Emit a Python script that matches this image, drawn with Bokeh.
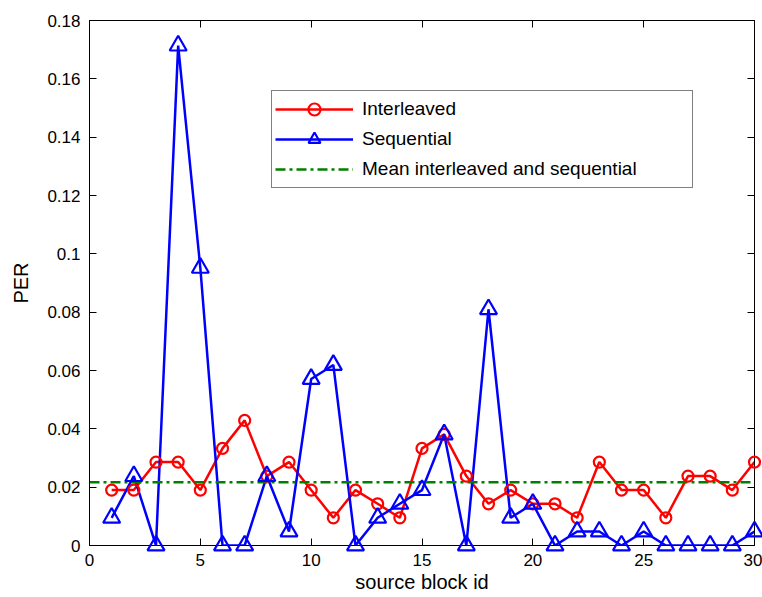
from bokeh.plotting import figure
from bokeh.models import (Range1d, LinearAxis, FixedTicker, CustomJSTickFormatter,
                          Legend, LegendItem)
from bokeh.embed import file_html
from bokeh.resources import INLINE

block_id = list(range(1, 31))
interleaved = [0.0190, 0.0190, 0.0286, 0.0286, 0.0190, 0.0333, 0.0429, 0.0238, 0.0286, 0.0190,
               0.0095, 0.0190, 0.0143, 0.0095, 0.0333, 0.0381, 0.0238, 0.0143, 0.0190, 0.0143,
               0.0143, 0.0095, 0.0286, 0.0190, 0.0190, 0.0095, 0.0238, 0.0238, 0.0190, 0.0286]
sequential = [0.0095, 0.0238, 0.0, 0.1714, 0.0952, 0.0, 0.0, 0.0238, 0.0048, 0.0571,
              0.0619, 0.0, 0.0095, 0.0143, 0.0190, 0.0381, 0.0, 0.0810, 0.0095, 0.0143,
              0.0, 0.0048, 0.0048, 0.0, 0.0048, 0.0, 0.0, 0.0, 0.0, 0.0048]
mean_value = 0.0217
x_ticks = [0, 5, 10, 15, 20, 25, 30]
y_ticks = [0, 0.02, 0.04, 0.06, 0.08, 0.1, 0.12, 0.14, 0.16, 0.18]
labels = ["Interleaved", "Sequential", "Mean interleaved and sequential"]

FONT = "Liberation Sans"

p = figure(frame_width=665, frame_height=525, output_backend="svg", toolbar_location=None,
           x_range=Range1d(0, 30), y_range=Range1d(0, 0.18),
           min_border_left=89, min_border_right=8, min_border_top=20, min_border_bottom=52,
           background_fill_color="white", border_fill_color="white")
p.grid.visible = False
p.outline_line_color = "black"
p.outline_line_width = 1

fmt = CustomJSTickFormatter(code="return tick.toFixed(2).replace(/0+$/,'').replace(/\\.$/,'');")

def style_axis(ax, ticks, show_labels):
    ax.ticker = FixedTicker(ticks=ticks)
    ax.major_tick_in = 7
    ax.major_tick_out = 0
    ax.minor_tick_line_color = None
    ax.axis_line_color = "black"
    ax.major_tick_line_color = "black"
    ax.major_label_text_font = FONT
    ax.major_label_text_font_size = "17px"
    ax.major_label_text_color = "black"
    ax.axis_label_text_font = FONT
    ax.axis_label_text_font_style = "normal"
    ax.axis_label_text_color = "black"
    if not show_labels:
        ax.formatter = CustomJSTickFormatter(code="return '';")
        ax.major_label_standoff = 0

xa = p.xaxis[0]
style_axis(xa, x_ticks, True)
xa.major_label_standoff = 8
xa.axis_label = "source block id"
xa.axis_label_text_font_size = "20px"
xa.axis_label_standoff = 2

ya = p.yaxis[0]
style_axis(ya, y_ticks, True)
ya.formatter = fmt
ya.major_label_standoff = 9
ya.axis_label = "PER"
ya.axis_label_text_font_size = "20px"
ya.axis_label_standoff = 12

top = LinearAxis()
style_axis(top, x_ticks, False)
p.add_layout(top, "above")
right = LinearAxis()
style_axis(right, y_ticks, False)
p.add_layout(right, "right")

r_int_line = p.line(block_id, interleaved, line_color="#ff0000", line_width=2.5)
r_int_mark = p.scatter(block_id, interleaved, marker="circle", size=11, fill_color=None,
                       line_color="#ff0000", line_width=2.2, level="overlay")
r_seq_line = p.line(block_id, sequential, line_color="#0000ff", line_width=2.5)
r_seq_mark = p.scatter(block_id, sequential, marker="triangle", size=17, fill_color=None,
                       line_color="#0000ff", line_width=2.2, level="overlay")
r_mean = p.line([x_ticks[0], x_ticks[-1]], [mean_value, mean_value], line_color="#008000",
                line_width=2.5, line_dash="10 4 3 4")

legend = Legend(items=[
    LegendItem(label=labels[0], renderers=[r_int_line, r_int_mark]),
    LegendItem(label=labels[1], renderers=[r_seq_line, r_seq_mark]),
    LegendItem(label=labels[2], renderers=[r_mean]),
], location=(182, 357))
legend.label_text_font = FONT
legend.label_text_font_size = "19px"
legend.label_text_color = "black"
legend.border_line_color = "black"
legend.border_line_width = 1
legend.background_fill_color = "white"
legend.background_fill_alpha = 1
legend.padding = 3
legend.margin = 0
legend.spacing = 0
legend.glyph_width = 78
legend.glyph_height = 30
legend.label_height = 30
legend.label_width = 327
legend.label_standoff = 9
p.add_layout(legend, "center")

open("out.html", "w").write(file_html(p, INLINE))
